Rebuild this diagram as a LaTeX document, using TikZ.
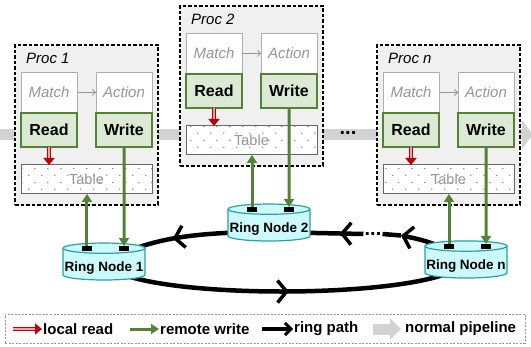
\documentclass[tikz,border=0pt]{standalone}
\usepackage{fontspec}
\setmainfont{Liberation Sans}
\usepackage{tikz}
\usetikzlibrary{positioning, shapes.geometric, arrows.meta, decorations.markings, patterns.meta, backgrounds}

\definecolor{procgray}{RGB}{240,240,240}
\definecolor{boxgray}{RGB}{175,175,175}
\definecolor{textgray}{RGB}{150,150,150}
\definecolor{rwfill}{RGB}{220,234,213}
\definecolor{rwgreen}{RGB}{84,130,53}
\definecolor{lrred}{RGB}{192,0,0}
\definecolor{ringfill}{RGB}{204,250,250}
\definecolor{ringteal}{RGB}{40,160,165}
\definecolor{pipegray}{RGB}{210,210,210}

\tikzdeclarepattern{
  name=tabledots,
  type=uncolored,
  bounding box={(0pt,0pt) and (13pt,14pt)},
  tile size={(13pt,14pt)},
  code={
    \fill (3pt,3pt) circle (0.65pt);
    \fill (9.5pt,10pt) circle (0.65pt);
  }
}

\begin{document}
\begin{tikzpicture}[x=1pt, y=1pt, node distance=10pt,
  proc/.style={draw, dash pattern=on 3.5pt off 2pt, line width=1.2pt, fill=procgray, minimum width=143pt, minimum height=160pt, outer sep=0pt, inner sep=0pt},
  proclabel/.style={inner sep=1pt, font=\fontsize{15}{18}\selectfont\itshape},
  matchbox/.style={draw=boxgray, fill=white, line width=0.8pt, minimum width=56pt, minimum height=41pt, outer sep=0pt, inner sep=0pt, text=textgray, font=\fontsize{15}{18}\selectfont\itshape},
  rwbox/.style={draw=rwgreen, fill=rwfill, line width=1.2pt, minimum width=56pt, minimum height=34pt, outer sep=0pt, inner sep=0pt, font=\fontsize{16}{19}\selectfont\bfseries},
  tablebox/.style={draw=black!60, line width=1pt, preaction={fill=white}, pattern=tabledots, pattern color=black!80, minimum width=131pt, minimum height=29pt, outer sep=0pt, inner sep=0pt, text=textgray, font=\fontsize{14.5}{17}\selectfont},
  ringnode/.style={cylinder, shape border rotate=90, aspect=0.13, draw=ringteal, fill=ringfill, line width=1.2pt, minimum width=82pt, minimum height=36pt, inner sep=0pt, outer sep=0pt, text height=18pt, text depth=3pt, anchor=south, font=\fontsize{13.5}{15}\selectfont\bfseries},
  port/.style={fill=black, minimum width=10pt, minimum height=5pt, inner sep=0pt, outer sep=0pt},
  flow/.style={draw=textgray, line width=0.8pt, -{Straight Barb[length=3pt, width=6pt]}},
  localread/.style={draw=lrred, line width=4pt, -{Triangle[length=7pt, width=11pt]}, postaction={draw=lrred!35, line width=1.4pt, -, shorten >=7pt}},
  remotewrite/.style={draw=rwgreen, line width=3pt, -{Triangle[length=8pt, width=10pt]}},
  ringpath/.style={draw=black, line width=4.5pt},
  ringtip/.style={-{Straight Barb[length=9pt, width=22pt, line width=3.5pt]}},
  ringarrow/.style={postaction={decorate}, decoration={markings, mark=at position #1 with {\arrow{Straight Barb[length=9pt, width=22pt, line width=3.5pt]}}}},
  pipeline/.style={draw=pipegray, line width=11pt, -{Triangle[length=11pt, width=28pt]}},
  ellipsis/.style={inner sep=1pt, font=\fontsize{20}{20}\selectfont\bfseries},
  legendtext/.style={inner sep=1pt, font=\fontsize{15}{18}\selectfont\bfseries}]

  \useasboundingbox (0,0) rectangle (531,346);

  % normal pipeline
  \coordinate (pipein) at (0,211.5);
  \coordinate (pipeout) at (533,211.5);
  \draw[pipeline] (pipein) -- (pipeout);
  \node[ellipsis] (pipedots) at (348,213) {...};

  % processors
  \node[proc, anchor=north west] (proc1) at (15,301) {};
  \node[proclabel, below right=7pt and 10pt of proc1.north west] (lab1) {Proc 1};
  \node[matchbox, below right=27pt and 6pt of proc1.north west] (match1) {Match};
  \node[rwbox, below=0pt of match1] (read1) {Read};
  \node[matchbox, right=19pt of match1] (action1) {Action};
  \node[rwbox, below=0pt of action1] (write1) {Write};
  \node[tablebox, below right=18pt and 0pt of read1.south west] (table1) {Table};
  \draw[flow] (match1) -- (action1);

  \node[proc, anchor=north west] (proc2) at (180,340) {};
  \node[proclabel, below right=7pt and 10pt of proc2.north west] (lab2) {Proc 2};
  \node[matchbox, below right=27pt and 6pt of proc2.north west] (match2) {Match};
  \node[rwbox, below=0pt of match2] (read2) {Read};
  \node[matchbox, right=19pt of match2] (action2) {Action};
  \node[rwbox, below=0pt of action2] (write2) {Write};
  \node[tablebox, below right=18pt and 0pt of read2.south west] (table2) {Table};
  \draw[flow] (match2) -- (action2);

  \node[proc, anchor=north west] (procn) at (377,301) {};
  \node[proclabel, below right=7pt and 10pt of procn.north west] (labn) {Proc n};
  \node[matchbox, below right=27pt and 6pt of procn.north west] (matchn) {Match};
  \node[rwbox, below=0pt of matchn] (readn) {Read};
  \node[matchbox, right=19pt of matchn] (actionn) {Action};
  \node[rwbox, below=0pt of actionn] (writen) {Write};
  \node[tablebox, below right=18pt and 0pt of readn.south west] (tablen) {Table};
  \draw[flow] (matchn) -- (actionn);

  % ring nodes
  \node[ringnode] (ring1) at (104,66) {Ring Node 1};
  \node[ringnode] (ring2) at (269,105) {Ring Node 2};
  \node[ringnode] (ringn) at (466,68) {Ring Node n};
  \node[port, below=3pt of ring1.north, xshift=-17pt] (ring1l) {};
  \node[port, below=3pt of ring1.north, xshift=20pt] (ring1r) {};
  \node[port, below=3pt of ring2.north, xshift=-17pt] (ring2l) {};
  \node[port, below=3pt of ring2.north, xshift=20pt] (ring2r) {};
  \node[port, below=3pt of ringn.north, xshift=-17pt] (ringnl) {};
  \node[port, below=3pt of ringn.north, xshift=20pt] (ringnr) {};

  \draw[localread] (read1.south) -- (read1.south |- table1.north);
  \draw[localread] (read2.south) -- (read2.south |- table2.north);
  \draw[localread] (readn.south) -- (readn.south |- tablen.north);
  \draw[remotewrite] (write1.south) -- (ring1r.north);
  \draw[remotewrite] (write2.south) -- (ring2r.north);
  \draw[remotewrite] (writen.south) -- (ringnr.north);
  \draw[remotewrite] (ring1l.north) -- (ring1l.north |- table1.south);
  \draw[remotewrite] (ring2l.north) -- (ring2l.north |- table2.south);
  \draw[remotewrite] (ringnl.north) -- (ringnl.north |- tablen.south);

  % ring path
  \node[ellipsis] (ringdots) at (373,112) {...};
  \coordinate (ringmark) at (401,110.5);
  \begin{scope}[on background layer]
    \coordinate[above=18pt of ring1.south] (ring1mid);
    \coordinate[above=9pt of ring2.south] (ring2top);
    \coordinate[above=17pt of ringn.south] (ringnmid);
    \draw[ringpath, ringarrow=0.51] (ring1mid) .. controls +(20,-40) and +(-20,-40) .. (ringnmid);
    \draw[ringpath, ringarrow=0.57] (ring2top) .. controls +(-90,0) and +(40,20) .. (ring1mid);
    \draw[ringpath, ringtip] (ringnmid) .. controls +(-25,18) and +(15,-3) .. (ringmark);
    \draw[ringpath] (ringmark) -- (ringdots.east);
    \draw[ringpath, ringarrow=0.25] (ringdots.west) -- (ring2top);
  \end{scope}

  % legend
  \node[draw=textgray, dash pattern=on 2pt off 1.5pt, line width=0.8pt, minimum width=520pt, minimum height=29pt, inner sep=0pt] (legend) at (265,17.5) {};
  \coordinate (leglr) at (13,17);
  \node[legendtext, right=29pt of leglr] (leglrtext) {local read};
  \draw[localread] (leglr) -- (leglrtext);
  \coordinate (legrw) at (130,17);
  \node[legendtext, right=29pt of legrw] (legrwtext) {remote write};
  \draw[remotewrite] (legrw) -- (legrwtext);
  \coordinate (legrp) at (262,17);
  \node[legendtext, right=31pt of legrp] (legrptext) {ring path};
  \draw[ringpath, line width=3.5pt, -{Straight Barb[length=6pt, width=12pt, line width=3pt]}] (legrp) -- (legrptext);
  \coordinate (legnp) at (373,17);
  \node[legendtext, right=31pt of legnp] (legnptext) {normal pipeline};
  \draw[pipeline, -{Triangle[length=11pt, width=21pt]}, shorten >=3pt] (legnp) -- (legnptext);
\end{tikzpicture}
\end{document}
